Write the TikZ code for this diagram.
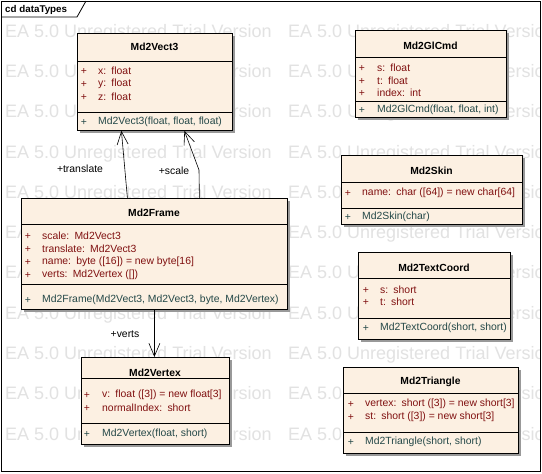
\documentclass[tikz,border=0pt]{standalone}
\usepackage{fontspec}
\setmainfont{Liberation Sans}
\usetikzlibrary{arrows.meta,shadows}

\definecolor{classfill}{RGB}{252,240,226}
\definecolor{attrcol}{RGB}{128,16,16}
\definecolor{opcol}{RGB}{36,72,72}
\definecolor{wmcol}{RGB}{226,226,226}

\tikzset{
  classbox/.style={draw=black, line width=0.8pt, fill=classfill, inner sep=0pt, anchor=north west,
    drop shadow={shadow xshift=3pt, shadow yshift=-3pt, fill=black!40, opacity=1}},
  classname/.style={font=\fontsize{10.3}{12}\selectfont\bfseries, inner sep=0pt},
  member/.style={anchor=west, inner sep=0pt, font=\fontsize{10.4}{12}\selectfont},
  attr/.style={member, text=attrcol},
  oper/.style={member, text=opcol},
  sep/.style={line width=0.8pt},
  assoc/.style={line width=0.6pt, -{Straight Barb[length=13pt,width=11pt]}},
  rolelabel/.style={font=\fontsize{10.4}{12}\selectfont, inner sep=0pt},
  watermark/.style={text=wmcol, font=\fontsize{18}{20}\selectfont, anchor=west, inner sep=0pt}
}

\begin{document}
\begin{tikzpicture}[x=1pt,y=-1pt]
  \useasboundingbox (0,0) rectangle (542,474);
  \fill[white] (0,0) rectangle (542,474);

  % trial watermark
  \begin{scope}
    \clip (1,1) rectangle (540,471);
    \foreach \row in {0,...,10}
      \foreach \col in {0,1}
        \node[watermark] at (5+283*\col, 32.5+40.3*\row) {EA 5.0 Unregistered Trial Version};
  \end{scope}

  % diagram frame
  \draw[line width=0.8pt] (1,1) rectangle (540,471);
  \draw[line width=0.8pt] (1,17) -- (77,17) -- (86,1);
  \node[anchor=west, inner sep=0pt, font=\fontsize{9.8}{12}\selectfont\bfseries] (frametitle) at (5,9.5) {cd dataTypes};

  % Md2Vect3
  \node[classbox, minimum width=155pt, minimum height=97pt] (vect3) at (77,33) {};
  \node[classname] (vect3name) at (154.5,47) {Md2Vect3};
  \draw[sep] (vect3.west |- 0,61) -- (vect3.east |- 0,61);
  \draw[sep] (vect3.west |- 0,112) -- (vect3.east |- 0,112);
  \node[attr, anchor=center] at (84,71) {+};
  \node[attr] at (98,71) {x:\enspace float};
  \node[attr, anchor=center] at (84,84) {+};
  \node[attr] at (98,84) {y:\enspace float};
  \node[attr, anchor=center] at (84,97) {+};
  \node[attr] at (98,97) {z:\enspace float};
  \node[oper, anchor=center] at (84,122) {+};
  \node[oper] at (98,122) {Md2Vect3(float, float, float)};

  % Md2Frame
  \node[classbox, minimum width=266pt, minimum height=111pt] (frame) at (21,198) {};
  \node[classname] (framename) at (154,213) {Md2Frame};
  \draw[sep] (frame.west |- 0,224) -- (frame.east |- 0,224);
  \draw[sep] (frame.west |- 0,284) -- (frame.east |- 0,284);
  \node[attr, anchor=center] at (28,236) {+};
  \node[attr] at (42,236) {scale:\enspace Md2Vect3};
  \node[attr, anchor=center] at (28,249) {+};
  \node[attr] at (42,249) {translate:\enspace Md2Vect3};
  \node[attr, anchor=center] at (28,262) {+};
  \node[attr] at (42,262) {name:\enspace byte ([16]) = new byte[16]};
  \node[attr, anchor=center] at (28,275) {+};
  \node[attr] at (42,275) {verts:\enspace Md2Vertex ([])};
  \node[oper, anchor=center] at (28,300) {+};
  \node[oper] at (42,300) {Md2Frame(Md2Vect3, Md2Vect3, byte, Md2Vertex)};

  % Md2Vertex
  \node[classbox, minimum width=148pt, minimum height=87pt] (vertex) at (81,357) {};
  \node[classname] (vertexname) at (155,373) {Md2Vertex};
  \draw[sep] (vertex.west |- 0,378) -- (vertex.east |- 0,378);
  \draw[sep] (vertex.west |- 0,423) -- (vertex.east |- 0,423);
  \node[attr, anchor=center] at (87,395) {+};
  \node[attr] at (102,395) {v:\enspace float ([3]) = new float[3]};
  \node[attr, anchor=center] at (87,408) {+};
  \node[attr] at (102,408) {normalIndex:\enspace short};
  \node[oper, anchor=center] at (87,434) {+};
  \node[oper] at (102,434) {Md2Vertex(float, short)};

  % Md2GlCmd
  \node[classbox, minimum width=151pt, minimum height=87pt] (glcmd) at (355,30) {};
  \node[classname] (glcmdname) at (430.5,46) {Md2GlCmd};
  \draw[sep] (glcmd.west |- 0,57) -- (glcmd.east |- 0,57);
  \draw[sep] (glcmd.west |- 0,101) -- (glcmd.east |- 0,101);
  \node[attr, anchor=center] at (362,68) {+};
  \node[attr] at (377,68) {s:\enspace float};
  \node[attr, anchor=center] at (362,81) {+};
  \node[attr] at (377,81) {t:\enspace float};
  \node[attr, anchor=center] at (362,93) {+};
  \node[attr] at (377,93) {index:\enspace int};
  \node[oper, anchor=center] at (362,110) {+};
  \node[oper] at (377,110) {Md2GlCmd(float, float, int)};

  % Md2Skin
  \node[classbox, minimum width=181pt, minimum height=69pt] (skin) at (341,155) {};
  \node[classname] (skinname) at (431.5,171) {Md2Skin};
  \draw[sep] (skin.west |- 0,182) -- (skin.east |- 0,182);
  \draw[sep] (skin.west |- 0,208) -- (skin.east |- 0,208);
  \node[attr, anchor=center] at (348,193) {+};
  \node[attr] at (362,193) {name:\enspace char ([64]) = new char[64]};
  \node[oper, anchor=center] at (348,217) {+};
  \node[oper] at (362,217) {Md2Skin(char)};

  % Md2TextCoord
  \node[classbox, minimum width=152pt, minimum height=87pt] (texcoord) at (358,252) {};
  \node[classname] (texcoordname) at (434,268) {Md2TextCoord};
  \draw[sep] (texcoord.west |- 0,278) -- (texcoord.east |- 0,278);
  \draw[sep] (texcoord.west |- 0,318) -- (texcoord.east |- 0,318);
  \node[attr, anchor=center] at (366,290) {+};
  \node[attr] at (380,290) {s:\enspace short};
  \node[attr, anchor=center] at (366,302) {+};
  \node[attr] at (380,302) {t:\enspace short};
  \node[oper, anchor=center] at (366,328) {+};
  \node[oper] at (380,328) {Md2TextCoord(short, short)};

  % Md2Triangle
  \node[classbox, minimum width=175pt, minimum height=86pt] (triangle) at (343,367) {};
  \node[classname] (trianglename) at (430.5,382) {Md2Triangle};
  \draw[sep] (triangle.west |- 0,393) -- (triangle.east |- 0,393);
  \draw[sep] (triangle.west |- 0,432) -- (triangle.east |- 0,432);
  \node[attr, anchor=center] at (351,404) {+};
  \node[attr] at (365,404) {vertex:\enspace short ([3]) = new short[3]};
  \node[attr, anchor=center] at (351,417) {+};
  \node[attr] at (365,417) {st:\enspace short ([3]) = new short[3]};
  \node[oper, anchor=center] at (351,442) {+};
  \node[oper] at (365,442) {Md2Triangle(short, short)};

  % associations
  \draw[assoc] ([xshift=-27pt]frame.north) -- ([xshift=-33.5pt]vect3.south);
  \coordinate (scalebend) at (199,170);
  \draw[assoc] ([xshift=45pt]frame.north) -- (scalebend) -- ([xshift=29.5pt]vect3.south);
  \draw[assoc] (frame.south) -- (frame.south |- vertex.north);

  \node[rolelabel] (translatelbl) at (80,169) {+translate};
  \node[rolelabel] (scalelbl) at (174,171) {+scale};
  \node[rolelabel] (vertslbl) at (125,334) {+verts};
\end{tikzpicture}
\end{document}
